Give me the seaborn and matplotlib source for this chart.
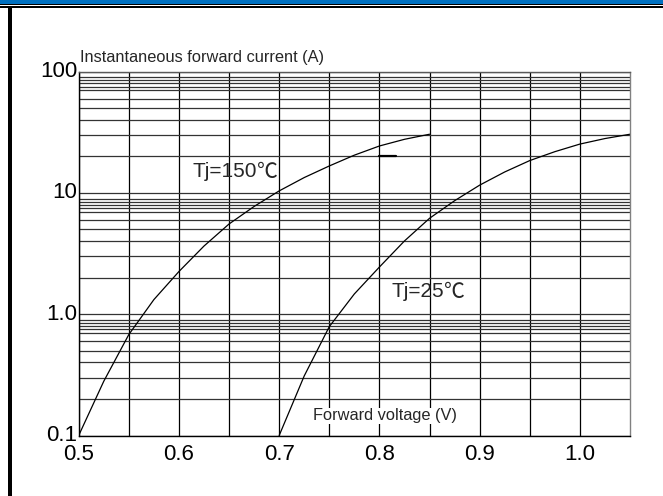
import numpy as np
import pandas as pd
import seaborn as sns
from matplotlib import pyplot as plt
from matplotlib.patches import Rectangle

sns.set_theme(style="white")
plt.rcParams["font.family"] = ["Liberation Sans", "Noto Sans CJK JP", "DejaVu Sans"]

# Forward voltage (V) vs instantaneous forward current (A)
vf_150 = [0.5, 0.525, 0.55, 0.575, 0.6, 0.625, 0.65, 0.675, 0.7, 0.725, 0.75, 0.775, 0.8, 0.825, 0.85]
if_150 = [0.1, 0.28, 0.68, 1.32, 2.25, 3.65, 5.55, 7.74, 10.4, 13.4, 16.7, 20.5, 24.4, 27.7, 30.5]
vf_25 = [0.7, 0.725, 0.75, 0.775, 0.8, 0.825, 0.85, 0.875, 0.9, 0.925, 0.95, 0.975, 1.0, 1.025, 1.05]
if_25 = [0.1, 0.31, 0.79, 1.47, 2.45, 4.02, 6.18, 8.63, 11.6, 14.9, 18.5, 21.9, 25.3, 28.1, 30.5]
curve_labels = ["Tj=150", "Tj=25"]

x_ticks = [0.5, 0.6, 0.7, 0.8, 0.9, 1.0]
x_ticklabels = ["0.5", "0.6", "0.7", "0.8", "0.9", "1.0"]
x_minor = [0.55, 0.65, 0.75, 0.85, 0.95]
y_ticks = [0.1, 1.0, 10, 100]
y_ticklabels = ["0.1", "1.0", "10", "100"]
y_minor_steps = [2, 3, 4, 5, 6, 7, 7.5, 8, 8.5, 9]

df = pd.DataFrame({
    "vf": vf_150 + vf_25,
    "if": if_150 + if_25,
    "tj": [curve_labels[0]] * len(vf_150) + [curve_labels[1]] * len(vf_25),
})

W, H = 663, 496
fig = plt.figure(figsize=(W / 100, H / 100), dpi=100)
ax = fig.add_axes([78.7 / W, 1 - 435.5 / H, (630 - 78.7) / W, (435.5 - 71.7) / H])

sns.lineplot(
    data=df, x="vf", y="if", hue="tj", palette=["black", "black"],
    estimator=None, sort=False, legend=False, lw=0.9, ax=ax,
)
ax.set_yscale("log")
ax.set_xlim(0.5, 1.05)
ax.set_ylim(0.1, 100)

ax.set_xticks(x_ticks)
ax.set_xticklabels(x_ticklabels)
ax.set_xticks(x_minor, minor=True)
ax.set_yticks(y_ticks)
ax.set_yticklabels(y_ticklabels)
y_minor = [d * s for d in [0.1, 1, 10] for s in y_minor_steps]
ax.set_yticks(y_minor, minor=True)
ax.yaxis.set_minor_formatter(plt.NullFormatter())
ax.tick_params(which="both", length=0)
ax.tick_params(axis="x", labelsize=16, pad=6, colors="black")
ax.tick_params(axis="y", labelsize=16, pad=1, colors="black")
for lbl in ax.get_yticklabels():
    lbl.set_verticalalignment("center")

ax.grid(True, which="both", axis="x", color="black", lw=0.9)
ax.grid(True, which="both", axis="y", color="0.2", lw=0.9)
ax.set_axisbelow(True)
for side, col in [("left", "black"), ("bottom", "black"), ("top", "0.35"), ("right", "0.5")]:
    ax.spines[side].set_color(col)
    ax.spines[side].set_linewidth(1.0)
ax.set_xlabel("")
ax.set_ylabel("")

# short heavier stub on the 20 A line
ax.plot([0.80, 0.817], [20, 20], color="black", lw=1.6)


def temp_label(x, y, s):
    t = ax.text(x, y, s, fontsize=15, va="center", ha="left")
    ax.annotate("℃", xy=(1, 0.5), xycoords=t, va="center", ha="left",
                fontsize=15, family=["Noto Sans CJK JP"])


temp_label(0.614, 15.0, curve_labels[0])
temp_label(0.812, 1.53, curve_labels[1])
ax.text(0.806, 0.145, "Forward voltage (V)", fontsize=11.8, va="center", ha="center",
        bbox=dict(facecolor="white", edgecolor="none", pad=0.5))
fig.text(80 / W, 1 - 62 / H, "Instantaneous forward current (A)", fontsize=11.8,
         va="baseline", ha="left")

# page header band and frame
fig.add_artist(Rectangle((0, 1 - 4 / H), 1, 4 / H, transform=fig.transFigure,
                         facecolor="#0070C0", edgecolor="none"))
fig.add_artist(Rectangle((0, 1 - 5.4 / H), 1, 1.4 / H, transform=fig.transFigure,
                         facecolor="black", edgecolor="none"))
fig.add_artist(Rectangle((0, 1 - 8 / H), 1, 1.8 / H, transform=fig.transFigure,
                         facecolor="black", edgecolor="none"))
fig.add_artist(Rectangle((8 / W, 0), 4 / W, 1 - 8 / H, transform=fig.transFigure,
                         facecolor="black", edgecolor="none"))

fig.savefig("out.png", dpi=100)
